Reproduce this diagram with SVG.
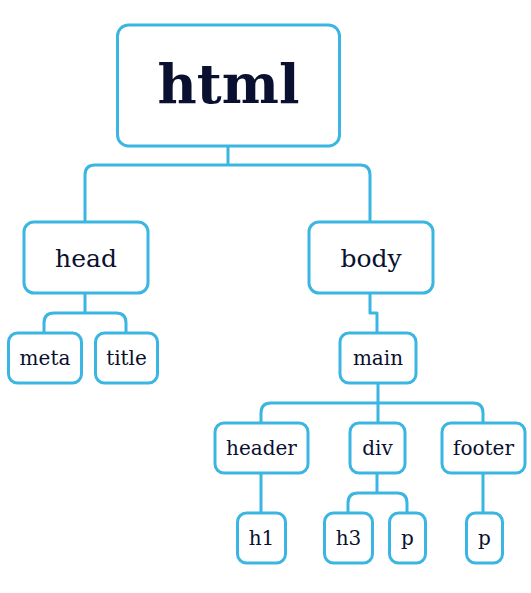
<svg xmlns="http://www.w3.org/2000/svg" width="531" height="593" viewBox="0 0 531 593">
<style>
.box{fill:#fff;stroke:#3bb5e1;stroke-width:3}
.ln{fill:none;stroke:#3bb5e1;stroke-width:3;stroke-linejoin:round}
text{font-family:"DejaVu Serif","Liberation Serif",serif;fill:#0a1030;text-anchor:middle}
.big{font-size:54px;font-weight:bold}
.mid{font-size:25px}
.sm{font-size:20px}
</style>
<rect width="531" height="593" fill="#fff"/>
<g id="connectors">
<path class="ln" d="M228 146V165M85 222V175Q85 165 95 165H360Q370 165 370 175V222"/>
<path class="ln" d="M85 293V313M44 333V323Q44 313 54 313H116Q126 313 126 323V333"/>
<path class="ln" d="M370 293V313H377V333"/>
<path class="ln" d="M378 383V423M261 423V413Q261 403 271 403H473Q483 403 483 413V423"/>
<path class="ln" d="M261 473V513M483 473V513"/>
<path class="ln" d="M377 473V493M348 513V503Q348 493 358 493H397Q407 493 407 503V513"/>
</g>
<g id="html"><rect class="box" x="117.5" y="25" width="222" height="121" rx="11"/><text class="big" x="228.5" y="103">html</text></g>
<g id="head"><rect class="box" x="24" y="222" width="124" height="71" rx="10"/><text class="mid" x="86" y="267">head</text></g>
<g id="body"><rect class="box" x="309" y="222" width="124" height="71" rx="10"/><text class="mid" x="371" y="267">body</text></g>
<g id="meta"><rect class="box" x="8.5" y="333" width="73" height="50" rx="9"/><text class="sm" x="45" y="365">meta</text></g>
<g id="title"><rect class="box" x="95.5" y="333" width="62" height="50" rx="9"/><text class="sm" x="126.5" y="365">title</text></g>
<g id="main"><rect class="box" x="340" y="333" width="76" height="50" rx="9"/><text class="sm" x="378" y="365">main</text></g>
<g id="header"><rect class="box" x="215" y="423" width="93" height="50" rx="9"/><text class="sm" x="261.5" y="455">header</text></g>
<g id="div"><rect class="box" x="350" y="423" width="55" height="50" rx="9"/><text class="sm" x="377.5" y="455">div</text></g>
<g id="footer"><rect class="box" x="442" y="423" width="83" height="50" rx="9"/><text class="sm" x="483.5" y="455">footer</text></g>
<g id="h1"><rect class="box" x="237.5" y="513" width="48" height="50" rx="9"/><text class="sm" x="261.5" y="545">h1</text></g>
<g id="h3"><rect class="box" x="324.5" y="513" width="48" height="50" rx="9"/><text class="sm" x="348.5" y="545">h3</text></g>
<g id="p1"><rect class="box" x="389.5" y="513" width="36" height="50" rx="9"/><text class="sm" x="407.5" y="545">p</text></g>
<g id="p2"><rect class="box" x="466.5" y="513" width="36" height="50" rx="9"/><text class="sm" x="484.5" y="545">p</text></g>
</svg>
